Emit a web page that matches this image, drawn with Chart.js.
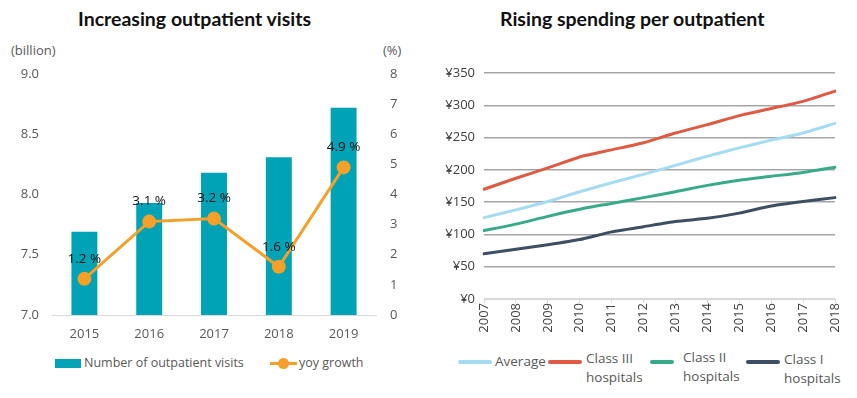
<!DOCTYPE html>
<html>
<head>
<meta charset="utf-8">
<script src="https://cdn.jsdelivr.net/npm/chart.js@4.4.0/dist/chart.umd.min.js"></script>
<style>
  body { margin: 0; background: #fff; font-family: "Open Sans", sans-serif; }
  #wrap { position: relative; width: 857px; height: 398px; overflow: hidden; }
  canvas { position: absolute; top: 0; }
  .title { position: absolute; top: 7px; font: bold 19.5px Lato, sans-serif; color: #111; white-space: nowrap; }
  .unit { position: absolute; top: 41px; font-size: 13px; color: #595959; }
  .leg { position: absolute; font-size: 12.5px; color: #595959; line-height: 19px; white-space: nowrap; }
  .leg2 { font-size: 13.5px; }
  .sw { position: absolute; }
</style>
</head>
<body>
<div id="wrap">
  <div class="title" style="left:78px">Increasing outpatient visits</div>
  <div class="title" style="left:500px">Rising spending per outpatient</div>
  <div class="unit" style="left:11px">(billion)</div>
  <div class="unit" style="left:383px">(%)</div>
  <canvas id="left" width="428" height="345" style="left:0"></canvas>
  <canvas id="right" width="427" height="345" style="left:430px"></canvas>

  <div class="sw" style="left:55px;top:359px;width:26px;height:9px;background:#00a2b6"></div>
  <div class="leg" style="left:84px;top:353px">Number of outpatient visits</div>
  <div class="sw" style="left:270px;top:362px;width:27px;height:3px;background:#f5a02a"></div>
  <div class="sw" style="left:278px;top:358px;width:11px;height:11px;border-radius:50%;background:#f5a02a"></div>
  <div class="leg" style="left:299px;top:353px">yoy growth</div>

  <div class="sw" style="left:458px;top:360px;width:34px;height:4px;border-radius:2px;background:#a6dcf2"></div>
  <div class="leg leg2" style="left:495px;top:352px">Average</div>
  <div class="sw" style="left:548px;top:360px;width:34px;height:4px;border-radius:2px;background:#e05a44"></div>
  <div class="leg leg2" style="left:586px;top:349px">Class III<br>hospitals</div>
  <div class="sw" style="left:650px;top:360px;width:24px;height:4px;border-radius:2px;background:#3aaa8c"></div>
  <div class="leg leg2" style="left:683px;top:348px">Class II<br>hospitals</div>
  <div class="sw" style="left:746px;top:360px;width:34px;height:4px;border-radius:2px;background:#3e4e63"></div>
  <div class="leg leg2" style="left:784px;top:350px">Class I<br>hospitals</div>
</div>
<script>
const years = ['2015', '2016', '2017', '2018', '2019'];
const visits = [7.69, 7.93, 8.18, 8.31, 8.72];
const growth = [1.2, 3.1, 3.2, 1.6, 4.9];

const spendYears = ['2007', '2008', '2009', '2010', '2011', '2012', '2013', '2014', '2015', '2016', '2017', '2018'];
const average = [126, 138, 151, 166, 180, 193, 207, 221, 234, 246, 257, 272];
const classIII = [170, 187, 203, 220, 231, 242, 257, 270, 284, 295, 306, 322];
const classII = [106, 116, 128, 139, 148, 157, 166, 176, 184, 190, 196, 204];
const classI = [70, 77, 84, 92, 104, 112, 120, 125, 133, 144, 151, 157];

Chart.defaults.font.family = '"Open Sans", sans-serif';
Chart.defaults.font.size = 13;
Chart.defaults.color = '#595959';

// writes "x.x %" above each point of the growth line
const pointLabels = {
    id: 'pointLabels',
    afterDatasetsDraw(chart) {
        const meta = chart.getDatasetMeta(0);
        const c = chart.ctx;
        c.save();
        c.font = '13.5px "Open Sans", sans-serif';
        c.fillStyle = '#111';
        c.textAlign = 'center';
        c.textBaseline = 'middle';
        meta.data.forEach((pt, i) => {
            c.fillText(growth[i].toFixed(1) + ' %', pt.x, pt.y - 20);
        });
        c.restore();
    }
};

new Chart(document.getElementById('left').getContext('2d'), {
    data: {
        labels: years,
        datasets: [{
            type: 'line',
            label: 'yoy growth',
            data: growth,
            yAxisID: 'y1',
            borderColor: '#f5a02a',
            backgroundColor: '#f5a02a',
            borderWidth: 3,
            pointRadius: 5.5,
            pointHoverRadius: 5.5,
            order: 0
        }, {
            type: 'bar',
            label: 'Number of outpatient visits',
            data: visits,
            yAxisID: 'y',
            backgroundColor: '#00a2b6',
            barPercentage: 0.4,
            categoryPercentage: 1,
            order: 1
        }]
    },
    options: {
        responsive: false,
        animation: false,
        layout: { padding: { top: 74, bottom: 0, left: 0, right: 0 } },
        plugins: { legend: { display: false }, tooltip: { enabled: false } },
        scales: {
            x: {
                grid: { display: false, drawTicks: false },
                border: { color: '#d9d9d9' },
                ticks: { padding: 11 },
                afterFit: s => { s.height = 30; }
            },
            y: {
                position: 'left',
                min: 7, max: 9,
                grid: { display: false, drawTicks: false },
                border: { display: false },
                ticks: { stepSize: 0.5, padding: 13, callback: v => v.toFixed(1) },
                afterFit: s => { s.width = 52; }
            },
            y1: {
                position: 'right',
                min: 0, max: 8,
                grid: { display: false, drawTicks: false },
                border: { display: false },
                ticks: { stepSize: 1, padding: 14 },
                afterFit: s => { s.width = 52; }
            }
        }
    },
    plugins: [pointLabels]
});

new Chart(document.getElementById('right').getContext('2d'), {
    type: 'line',
    data: {
        labels: spendYears,
        datasets: [
            { label: 'Average', data: average, borderColor: '#a6dcf2' },
            { label: 'Class III hospitals', data: classIII, borderColor: '#e05a44' },
            { label: 'Class II hospitals', data: classII, borderColor: '#3aaa8c' },
            { label: 'Class I hospitals', data: classI, borderColor: '#3e4e63' }
        ]
    },
    options: {
        responsive: false,
        animation: false,
        datasets: { line: { borderWidth: 3, pointRadius: 0, tension: 0.2, borderCapStyle: 'round' } },
        layout: { padding: { top: 73, bottom: 0, left: 0, right: 22 } },
        plugins: { legend: { display: false }, tooltip: { enabled: false } },
        scales: {
            x: {
                offset: false,
                grid: { drawOnChartArea: false, color: '#d9d9d9', tickLength: 4 },
                border: { color: '#d9d9d9' },
                ticks: { minRotation: 90, maxRotation: 90, padding: 0, color: '#404040' },
                afterFit: s => { s.height = 46; }
            },
            y: {
                min: 0, max: 350,
                grid: {
                    drawTicks: false,
                    lineWidth: 1.5,
                    color: c => c.tick && c.tick.value === 0 ? '#d9d9d9' : '#a6a6a6'
                },
                border: { display: false },
                ticks: { stepSize: 50, padding: 9, color: '#404040', callback: v => '¥' + v },
                afterFit: s => { s.width = 54; }
            }
        }
    }
});
</script>
</body>
</html>
